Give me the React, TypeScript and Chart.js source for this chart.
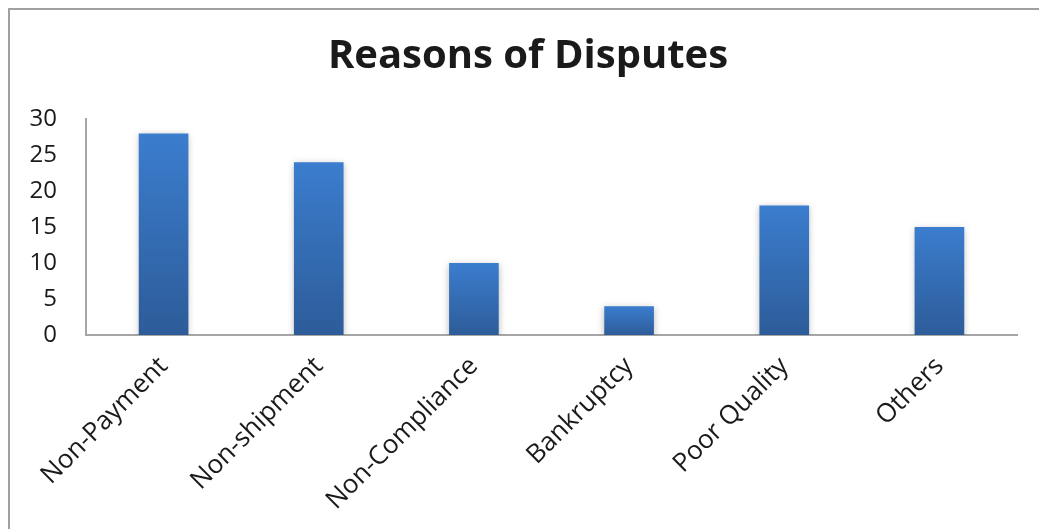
import React, { useEffect, useRef } from "react";
import { Chart, registerables } from "chart.js";

Chart.register(...registerables);

const categories = ["Non-Payment", "Non-shipment", "Non-Compliance", "Bankruptcy", "Poor Quality", "Others"];
const disputeCounts = [28, 24, 10, 4, 18, 15];
const yTicks = [0, 5, 10, 15, 20, 25, 30];
const chartTitle = "Reasons of Disputes";

const frameAndShadowPlugin = {
  id: "frameAndShadow",
  beforeDraw(chart: any) {
    const ctx = chart.ctx;
    ctx.save();
    ctx.fillStyle = "#ffffff";
    ctx.fillRect(0, 0, chart.width, chart.height);
    ctx.fillStyle = "#a0a0a0";
    ctx.fillRect(0, 0, chart.width, 2);
    ctx.fillRect(0, 0, 2, chart.height);
    ctx.restore();
  },
  beforeDatasetsDraw(chart: any) {
    const ctx = chart.ctx;
    ctx.save();
    ctx.shadowColor = "rgba(0,0,0,0.28)";
    ctx.shadowBlur = 7;
    ctx.shadowOffsetX = 0;
    ctx.shadowOffsetY = 2;
  },
  afterDatasetsDraw(chart: any) {
    chart.ctx.restore();
  },
};

export default function App() {
  const ref = useRef<HTMLCanvasElement | null>(null);

  useEffect(() => {
    document.documentElement.style.overflow = "hidden";
    document.body.style.overflow = "hidden";
    if (!ref.current) return;
    const chart = new Chart(ref.current, {
      type: "bar",
      data: {
        labels: categories,
        datasets: [
          {
            data: disputeCounts,
            backgroundColor: (c: any) => {
              const ch = c.chart;
              const y = ch.scales?.y;
              if (!y || c.raw === undefined) return "#3570B8";
              const top = y.getPixelForValue(c.raw);
              const base = y.getPixelForValue(0);
              if (!isFinite(top) || !isFinite(base) || top === base) return "#3570B8";
              const g = ch.ctx.createLinearGradient(0, top, 0, base);
              g.addColorStop(0, "#3B7DCE");
              g.addColorStop(1, "#2D5C99");
              return g;
            },
            borderWidth: 0,
            barPercentage: 0.32,
            categoryPercentage: 1,
          },
        ],
      },
      options: {
        responsive: false,
        animation: false,
        layout: { padding: { left: 16, right: 7, top: 0, bottom: 0 } },
        plugins: {
          legend: { display: false },
          tooltip: { enabled: false },
          title: {
            display: true,
            text: chartTitle,
            color: "#1a1a1a",
            font: { family: "'Open Sans'", size: 40, weight: "bold", lineHeight: 1.2 },
            padding: { top: 25, bottom: 38 },
          },
        },
        scales: {
          x: {
            grid: { display: false, drawTicks: false },
            border: { display: true, color: "#a6a6a6", width: 2 },
            ticks: {
              color: "#1a1a1a",
              font: { family: "'Open Sans'", size: 26 },
              maxRotation: 45,
              minRotation: 45,
              padding: 16,
              autoSkip: false,
            },
            afterFit: (s: any) => {
              s.height = 194;
            },
          },
          y: {
            min: 0,
            max: 30,
            afterBuildTicks: (s: any) => {
              s.ticks = yTicks.map((v) => ({ value: v }));
            },
            grid: { display: false, drawTicks: false },
            border: { display: true, color: "#a6a6a6", width: 2 },
            ticks: {
              color: "#1a1a1a",
              font: { family: "'Open Sans'", size: 24 },
              padding: 29,
            },
            afterFit: (s: any) => {
              s.width = 62;
            },
          },
          yRightSpacer: {
            type: "linear",
            position: "right",
            min: 0,
            max: 30,
            grid: { display: false, drawTicks: false },
            border: { display: false },
            ticks: { display: false },
            afterFit: (s: any) => {
              s.width = 15;
            },
          },
        },
      },
      plugins: [frameAndShadowPlugin],
    });
    return () => chart.destroy();
  }, []);

  return (
    <div style={{ position: "absolute", left: 8, top: 8, width: 1031, height: 521 }}>
      <canvas ref={ref} width={1031} height={521} style={{ display: "block" }} />
    </div>
  );
}
